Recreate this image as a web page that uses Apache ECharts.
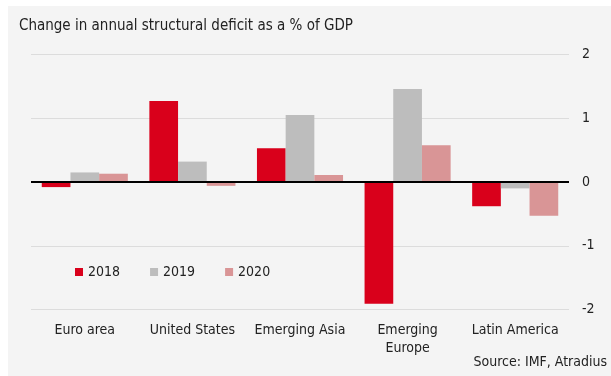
<!DOCTYPE html>
<html>
<head>
<meta charset="utf-8">
<script src="https://cdn.jsdelivr.net/npm/echarts@6/dist/echarts.min.js"></script>
<style>
  html, body { margin: 0; padding: 0; background: #ffffff; }
  #chart { width: 611px; height: 376px; }
</style>
</head>
<body>
<div id="chart"></div>
<script>
// Change in annual structural deficit, % of GDP
const regions = ['Euro area', 'United States', 'Emerging Asia', 'Emerging\nEurope', 'Latin America'];
const years = ['2018', '2019', '2020'];
const values2018 = [-0.08, 1.27, 0.53, -1.91, -0.38];
const values2019 = [0.15, 0.32, 1.05, 1.46, -0.10];
const values2020 = [0.13, -0.06, 0.11, 0.575, -0.53];
const yTicks = [-2, -1, 0, 1, 2];

const FONT = '"DejaVu Sans Condensed", "DejaVu Sans", sans-serif';
const colors = ['#d9001b', '#bdbdbd', '#d99596'];

const chart = echarts.init(document.getElementById('chart'), null, { renderer: 'canvas' });

const seriesData = [values2018, values2019, values2020];
const series = years.map((y, i) => ({
  name: y,
  type: 'bar',
  data: seriesData[i],
  itemStyle: { color: colors[i] },
  barGap: '0%',
  barCategoryGap: '20%',
  emphasis: { disabled: true },
  markLine: i === 0 ? {
    silent: true,
    symbol: 'none',
    label: { show: false },
    lineStyle: { color: '#000000', width: 1.8, type: 'solid' },
    data: [{ yAxis: 0 }]
  } : undefined
}));

chart.setOption({
  animation: false,
  backgroundColor: '#ffffff',
  graphic: [{
    type: 'rect',
    z: -10,
    silent: true,
    shape: { x: 8, y: 6, width: 603, height: 370 },
    style: { fill: '#f4f4f4' }
  }, {
    type: 'text',
    left: 19,
    top: 19,
    style: {
      text: 'Change in annual structural deficit as a % of GDP',
      font: '15px ' + FONT,
      fill: '#222222'
    }
  }, {
    type: 'text',
    right: 4,
    top: 355,
    style: {
      text: 'Source: IMF, Atradius',
      font: '14px ' + FONT,
      fill: '#222222'
    }
  }],
  legend: {
    left: 75,
    top: 265,
    padding: 0,
    itemWidth: 8,
    itemHeight: 8,
    itemGap: 30,
    icon: 'rect',
    selectedMode: false,
    textStyle: { fontFamily: FONT, fontSize: 14, color: '#222222' },
    data: years
  },
  grid: { left: 31, right: 42, top: 54.5, bottom: 66.5, containLabel: false },
  xAxis: {
    type: 'category',
    data: regions,
    axisLine: { show: false, onZero: false },
    axisTick: { show: false },
    axisLabel: {
      margin: 12,
      fontFamily: FONT,
      fontSize: 14,
      color: '#222222',
      lineHeight: 18,
      interval: 0
    }
  },
  yAxis: {
    type: 'value',
    position: 'right',
    min: yTicks[0],
    max: yTicks[yTicks.length - 1],
    interval: 1,
    axisLine: { show: false },
    axisTick: { show: false },
    splitLine: { lineStyle: { color: '#dcdcdc', width: 1 } },
    axisLabel: {
      margin: 13,
      fontFamily: FONT,
      fontSize: 14,
      color: '#222222',
      align: 'left'
    }
  },
  series: series
});
</script>
</body>
</html>
